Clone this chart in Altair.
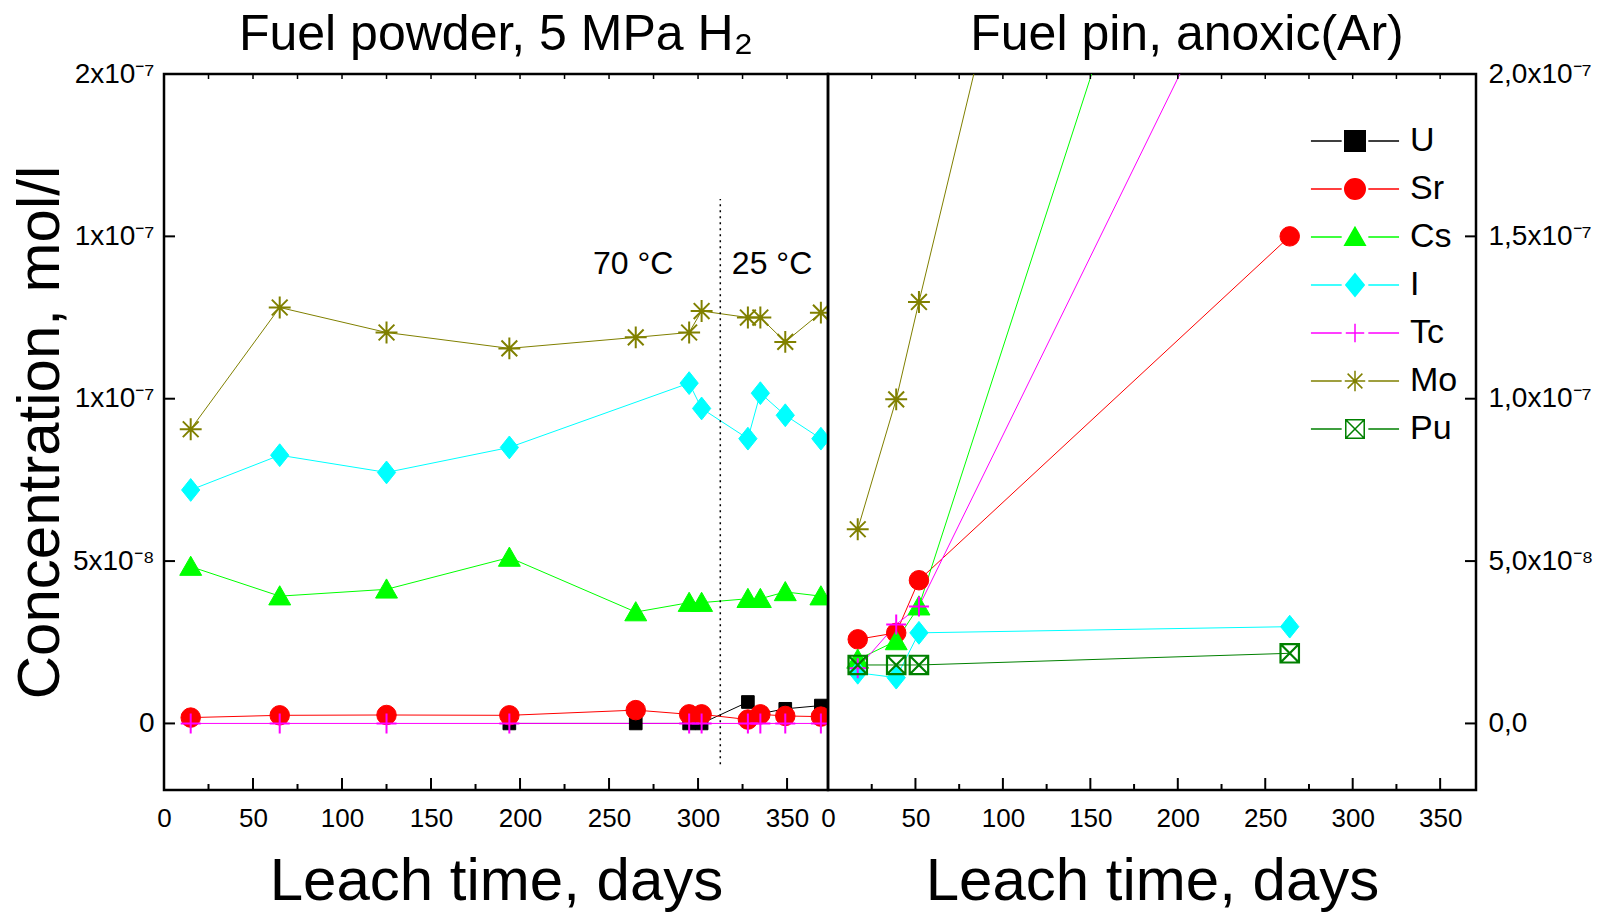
import altair as alt
import pandas as pd

FONT = "Liberation Sans"

# ---------------- data (concentrations in 1e-9 mol/l) ----------------
ELEMENTS = ["U", "Sr", "Cs", "I", "Tc", "Mo", "Pu"]
COLORS = ["#000000", "#ff0000", "#00ff00", "#00ffff", "#ff00ff", "#808000", "#008000"]
FILLS = ["#000000", "#ff0000", "#00ff00", "#00ffff", "transparent", "transparent", "transparent"]

# Left panel: fuel powder, 5 MPa H2
powder_days = [15, 65, 125, 194, 265, 295, 302, 328, 335, 349, 369]
powder_U = [None, None, None, 0, 0, 0, 0, 6.6, 3.0, 4.5, 5.5]
powder_Sr = [1.8, 2.5, 2.6, 2.5, 4.1, 2.8, 2.8, 1.2, 2.8, 2.3, 2.1]
powder_Cs = [48.3, 39.2, 41.3, 51.1, 34.3, 37.2, 37.2, 38.4, 38.4, 40.5, 39.2]
powder_I = [71.9, 82.6, 77.3, 85.0, None, 104.8, 97.0, 87.7, 101.7, 94.9, 87.7]
powder_Tc = [0, 0, 0, 0, None, 0, 0, 0, 0, 0, 0]
powder_Mo = [90.6, 128.1, 120.4, 115.5, 118.9, 120.4, 127.0, 125.0, 125.0, 117.5, 126.5]

# Right panel: fuel pin, anoxic (Ar)
pin_days = [17, 39, 52, 264]
pin_Sr = [25.9, 27.9, 44.1, 150.0]
pin_Cs = [19.7, 25.4, 36.1, 388.0]
pin_I = [15.6, 14.1, 27.9, 29.8]
pin_Tc = [17.0, 30.5, 36.0, 269.0]
pin_Mo = [59.8, 99.8, 129.8, 604.0]
pin_Pu = [18.0, 18.0, 18.0, 21.6]

# axes
x_tick_values = [0, 50, 100, 150, 200, 250, 300, 350]
x_minor_values = [25, 75, 125, 175, 225, 275, 325]
x_top_values = [25, 50, 75, 100, 125, 150, 175, 200, 225, 250, 275, 300, 325, 350]
y_tick_values = [0, 50, 100, 150, 200]
left_y_labels = ["0", "5x10⁻⁸", "1x10⁻⁷", "1x10⁻⁷", "2x10⁻⁷"]
right_y_labels = ["0,0", "5,0x10⁻⁸", "1,0x10⁻⁷", "1,5x10⁻⁷", "2,0x10⁻⁷"]

# annotations
temp_labels = ["70 °C", "25 °C"]
temp_days = [241, 319]
temp_conc = [138.4, 138.4]
divider_day = [312.5]
divider_low = [-12.6]
divider_high = [161.5]

# ---------------- styles ----------------
LW, RW, H = 664, 648, 716
YDOM = [-20.5, 200]
MARKERS = {
    "U": ("square", 160, True, 1),
    "Sr": ("circle", 380, True, 1),
    "Cs": ("M0,-0.95L1,0.8L-1,0.8Z", 480, True, 1),
    "I": ("M0,-1.1L0.88,0L0,1.1L-0.88,0Z", 430, True, 1),
    "Tc": ("M-1,0H1M0,-1V1", 400, False, 2),
    "Mo": ("M0,-1V1M-1,0H1M-0.72,-0.72L0.72,0.72M0.72,-0.72L-0.72,0.72", 480, False, 2),
    "Pu": ("M-1,-1H1V1H-1ZM-1,-1L1,1M1,-1L-1,1", 340, False, 2.2),
}
LEGEND_PATHS = [
    "M-4.3,0H-1.3M1.3,0H4.3M-1,-1H1V1H-1Z",
    "M-4.3,0H-1.3M1.3,0H4.3M1,0A1,1 0 1,1 -1,0A1,1 0 1,1 1,0Z",
    "M-4.3,0H-1.3M1.3,0H4.3M0,-0.95L1,0.8L-1,0.8Z",
    "M-4.3,0H-1.3M1.3,0H4.3M0,-1.1L0.9,0L0,1.1L-0.9,0Z",
    "M-4.3,0H-1.3M1.3,0H4.3M-0.9,0H0.9M0,-0.9V0.9",
    "M-4.3,0H-1.3M1.3,0H4.3M0,-1V1M-1,0H1M-0.72,-0.72L0.72,0.72M0.72,-0.72L-0.72,0.72",
    "M-4.3,0H-1.3M1.3,0H4.3M-0.9,-0.9H0.9V0.9H-0.9ZM-0.9,-0.9L0.9,0.9M0.9,-0.9L-0.9,0.9",
]


def long_table(days, series):
    rows = []
    for el in ELEMENTS:
        if el not in series:
            continue
        for d, v in zip(days, series[el]):
            if v is not None:
                rows.append({"Element": el, "day": d, "conc": v})
    return pd.DataFrame(rows)


powder = long_table(powder_days, {"U": powder_U, "Sr": powder_Sr, "Cs": powder_Cs,
                                  "I": powder_I, "Tc": powder_Tc, "Mo": powder_Mo})
pin = long_table(pin_days, {"Sr": pin_Sr, "Cs": pin_Cs, "I": pin_I,
                            "Tc": pin_Tc, "Mo": pin_Mo, "Pu": pin_Pu})


def label_expr(labels):
    expr = "''"
    for v, lab in reversed(list(zip(y_tick_values, labels))):
        expr = f"datum.value == {v} ? '{lab}' : ({expr})"
    return expr


def x_enc(dom):
    return alt.X("day:Q", scale=alt.Scale(domain=dom, nice=False, zero=False),
                 axis=alt.Axis(values=x_tick_values, title="Leach time, days",
                               labelFlush=False, labelOverlap=False, labelPadding=15,
                               titlePadding=21, grid=False, ticks=False, domain=False))


def y_enc(side):
    if side == "left":
        ax = alt.Axis(orient="left", values=y_tick_values, labelExpr=label_expr(left_y_labels),
                      title="Concentration, mol/l", titlePadding=1, labelPadding=10,
                      grid=False, ticks=False, domain=False)
    else:
        ax = alt.Axis(orient="right", values=y_tick_values, labelExpr=label_expr(right_y_labels),
                      title=None, labelPadding=12, grid=False, ticks=False, domain=False)
    return alt.Y("conc:Q", scale=alt.Scale(domain=YDOM, nice=False, zero=False), axis=ax)


def panel(df, xdom, W, side):
    X = x_enc(xdom)
    Y = y_enc(side)
    layers = []
    for el, col in zip(ELEMENTS, COLORS):
        sub = df[df["Element"] == el]
        if sub.empty:
            continue
        layers.append(alt.Chart(sub).mark_line(strokeWidth=1, color=col, clip=True).encode(x=X, y=Y))
    for el, col in zip(ELEMENTS, COLORS):
        sub = df[df["Element"] == el]
        if sub.empty:
            continue
        shape, size, filled, sw = MARKERS[el]
        layers.append(
            alt.Chart(sub).mark_point(
                shape=shape, size=size, filled=filled, color=col,
                fill=col if filled else "transparent", stroke=col,
                strokeWidth=sw, opacity=1, clip=True,
            ).encode(x=X, y=Y)
        )
    # inward tick marks
    layers.append(alt.Chart(pd.DataFrame({"day": x_tick_values})).mark_rule(
        color="black", strokeWidth=2).encode(x=X, y=alt.value(H), y2=alt.value(H - 12)))
    layers.append(alt.Chart(pd.DataFrame({"day": x_minor_values})).mark_rule(
        color="black", strokeWidth=2).encode(x=X, y=alt.value(H), y2=alt.value(H - 6)))
    layers.append(alt.Chart(pd.DataFrame({"day": x_top_values})).mark_rule(
        color="black", strokeWidth=1.5).encode(x=X, y=alt.value(0), y2=alt.value(5)))
    if side == "left":
        layers.append(alt.Chart(pd.DataFrame({"conc": y_tick_values[:-1]})).mark_rule(
            color="black", strokeWidth=2).encode(y=Y, x=alt.value(0), x2=alt.value(11)))
    else:
        layers.append(alt.Chart(pd.DataFrame({"conc": y_tick_values[:-1]})).mark_rule(
            color="black", strokeWidth=2).encode(y=Y, x=alt.value(W), x2=alt.value(W - 11)))
    return layers


TITLE_KW = dict(fontSize=50, font=FONT, fontWeight="normal", anchor="middle", offset=0, color="black")

left_layers = panel(powder, [0, 373], LW, "left")
Xl = x_enc([0, 373])
Yl = y_enc("left")
left_layers.append(
    alt.Chart(pd.DataFrame({"day": divider_day, "conc": divider_low, "conc2": divider_high}))
    .mark_rule(color="black", strokeWidth=1.5, strokeDash=[2, 4])
    .encode(x=Xl, y=Yl, y2="conc2:Q")
)
left_layers.append(
    alt.Chart(pd.DataFrame({"day": temp_days, "conc": temp_conc, "label": temp_labels}))
    .mark_text(align="left", baseline="alphabetic", fontSize=32, font=FONT, color="black")
    .encode(x=Xl, y=Yl, text="label:N")
)
left = alt.layer(*left_layers).properties(
    width=LW, height=H,
    title=alt.TitleParams("Fuel powder, 5 MPa H₂", **TITLE_KW),
)

right_layers = panel(pin, [0, 370.5], RW, "right")
Xr = x_enc([0, 370.5])
Yr = y_enc("right")
LEG = alt.Legend(orient="none", legendX=510, legendY=50, title=None, labelFontSize=34,
                 labelFont=FONT, labelColor="black", symbolSize=420, symbolStrokeWidth=1.5,
                 labelOffset=38, rowPadding=14, symbolOpacity=1, padding=0)
legend_df = pd.DataFrame({"Series": ELEMENTS, "day": [0] * len(ELEMENTS), "conc": [0] * len(ELEMENTS)})
right_layers.append(
    alt.Chart(legend_df).mark_point(size=0).encode(
        x=Xr, y=Yr,
        shape=alt.Shape("Series:N", scale=alt.Scale(domain=ELEMENTS, range=LEGEND_PATHS), legend=LEG),
        fill=alt.Fill("Series:N", scale=alt.Scale(domain=ELEMENTS, range=FILLS), legend=LEG),
        stroke=alt.Stroke("Series:N", scale=alt.Scale(domain=ELEMENTS, range=COLORS), legend=LEG),
    )
)
right = alt.layer(*right_layers).properties(
    width=RW, height=H,
    title=alt.TitleParams("Fuel pin, anoxic(Ar)", dx=35, **TITLE_KW),
)

chart = (
    alt.hconcat(left, right, spacing=0, bounds="flush")
    .resolve_scale(shape="independent", fill="independent", stroke="independent")
    .properties(padding={"left": 1, "top": 0, "right": 5, "bottom": 0}, background="white")
    .configure_view(stroke="black", strokeWidth=2.5)
    .configure_axis(labelFont=FONT, labelFontSize=28, labelColor="black", titleFont=FONT,
                    titleFontSize=60, titleFontWeight="normal", titleColor="black")
    .configure_axisX(labelFontSize=26)
)

chart.save("out.html", embed_options={"renderer": "svg", "actions": False})
